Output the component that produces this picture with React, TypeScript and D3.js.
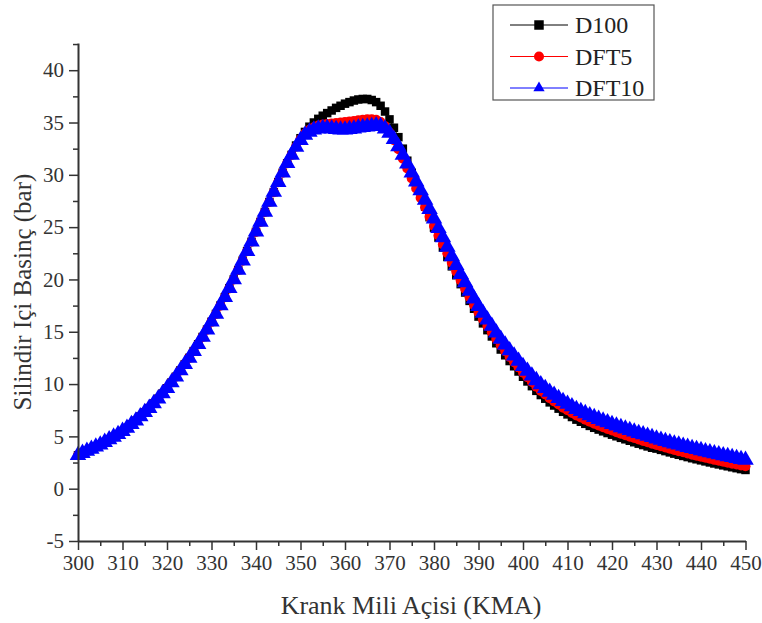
import { useEffect, useRef } from "react";
import * as d3 from "d3";

// crank angle, one reading per degree
const angles = d3.range(300, 451);

const d100 = [
  3.2, 3.4, 3.6, 3.8, 4.0, 4.2, 4.45, 4.7, 4.95, 5.2,
  5.5, 5.8, 6.15, 6.5, 6.9, 7.3, 7.7, 8.15, 8.6, 9.1,
  9.6, 10.15, 10.7, 11.3, 11.9, 12.5, 13.15, 13.8, 14.5, 15.2,
  15.95, 16.7, 17.5, 18.3, 19.15, 20.0, 20.9, 21.8, 22.7, 23.6,
  24.55, 25.5, 26.45, 27.4, 28.35, 29.3, 30.2, 31.1, 31.9, 32.8,
  33.5, 34.1, 34.6, 35.0, 35.35, 35.65, 35.9, 36.15, 36.4, 36.6,
  36.8, 36.95, 37.1, 37.2, 37.25, 37.25, 37.15, 36.95, 36.6, 36.05,
  35.3, 34.5, 33.6, 32.5, 31.35, 30.2, 29.1, 28.0, 26.95, 25.95,
  24.95, 24.0, 23.05, 22.15, 21.25, 20.4, 19.55, 18.75, 17.95, 17.2,
  16.45, 15.8, 15.15, 14.55, 13.9, 13.3, 12.75, 12.2, 11.7, 11.2,
  10.7, 10.25, 9.8, 9.35, 8.95, 8.6, 8.25, 7.95, 7.65, 7.35,
  7.1, 6.85, 6.6, 6.4, 6.2, 6.0, 5.82, 5.65, 5.48, 5.32,
  5.16, 5.01, 4.86, 4.72, 4.58, 4.44, 4.3, 4.17, 4.04, 3.91,
  3.83, 3.71, 3.59, 3.47, 3.35, 3.24, 3.13, 3.02, 2.91, 2.81,
  2.71, 2.61, 2.51, 2.41, 2.32, 2.23, 2.14, 2.05, 1.96, 1.87,
  1.79,
];

const dft5 = [
  3.2, 3.4, 3.6, 3.8, 4.0, 4.2, 4.45, 4.7, 4.95, 5.2,
  5.5, 5.8, 6.15, 6.5, 6.9, 7.3, 7.7, 8.15, 8.6, 9.1,
  9.6, 10.15, 10.7, 11.3, 11.9, 12.5, 13.15, 13.8, 14.5, 15.2,
  15.95, 16.7, 17.5, 18.3, 19.15, 20.0, 20.9, 21.8, 22.7, 23.6,
  24.55, 25.5, 26.45, 27.4, 28.35, 29.3, 30.2, 31.1, 31.9, 32.7,
  33.4, 33.95, 34.3, 34.55, 34.7, 34.8, 34.85, 34.9, 34.95, 35.0,
  35.05, 35.1, 35.15, 35.2, 35.25, 35.3, 35.3, 35.25, 35.05, 34.65,
  34.05, 33.3, 32.45, 31.55, 30.6, 29.65, 28.7, 27.8, 26.9, 26.0,
  25.1, 24.2, 23.35, 22.5, 21.6, 20.75, 19.9, 19.1, 18.3, 17.55,
  16.85, 16.2, 15.55, 14.95, 14.3, 13.7, 13.15, 12.6, 12.1, 11.6,
  11.1, 10.65, 10.2, 9.75, 9.35, 9.0, 8.65, 8.35, 8.05, 7.75,
  7.5, 7.25, 7.0, 6.8, 6.6, 6.4, 6.22, 6.05, 5.88, 5.72,
  5.56, 5.41, 5.26, 5.12, 4.98, 4.84, 4.7, 4.57, 4.44, 4.31,
  4.18, 4.06, 3.94, 3.82, 3.7, 3.59, 3.48, 3.37, 3.26, 3.16,
  3.06, 2.96, 2.86, 2.76, 2.67, 2.58, 2.49, 2.4, 2.31, 2.22,
  2.14,
];

const dft10 = [
  3.2, 3.4, 3.6, 3.8, 4.0, 4.2, 4.45, 4.7, 4.95, 5.2,
  5.5, 5.8, 6.15, 6.5, 6.9, 7.3, 7.7, 8.15, 8.6, 9.1,
  9.6, 10.15, 10.7, 11.3, 11.9, 12.5, 13.15, 13.8, 14.5, 15.2,
  15.95, 16.7, 17.5, 18.3, 19.15, 20.0, 20.9, 21.8, 22.7, 23.6,
  24.55, 25.5, 26.45, 27.4, 28.35, 29.3, 30.2, 31.1, 31.9, 32.65,
  33.3, 33.8, 34.1, 34.3, 34.4, 34.45, 34.45, 34.4, 34.35, 34.3,
  34.3, 34.35, 34.4, 34.5, 34.55, 34.6, 34.65, 34.7, 34.65, 34.4,
  34.0, 33.4, 32.7, 31.9, 31.05, 30.2, 29.35, 28.5, 27.6, 26.7,
  25.8, 24.9, 24.0, 23.1, 22.2, 21.35, 20.5, 19.7, 18.9, 18.15,
  17.45, 16.8, 16.15, 15.55, 14.9, 14.3, 13.75, 13.2, 12.7, 12.2,
  11.7, 11.25, 10.8, 10.35, 9.95, 9.6, 9.25, 8.95, 8.65, 8.35,
  8.1, 7.85, 7.6, 7.4, 7.2, 7.0, 6.82, 6.65, 6.48, 6.32,
  6.16, 6.01, 5.86, 5.72, 5.58, 5.44, 5.3, 5.17, 5.04, 4.91,
  4.78, 4.66, 4.54, 4.42, 4.3, 4.19, 4.08, 3.97, 3.86, 3.76,
  3.66, 3.56, 3.46, 3.36, 3.27, 3.18, 3.09, 3.0, 2.91, 2.82,
  2.74,
];

const seriesNames = ["D100", "DFT5", "DFT10"];
const seriesColors = ["#000000", "#ff0000", "#0000ff"];
const xTicks = [300, 310, 320, 330, 340, 350, 360, 370, 380, 390, 400, 410, 420, 430, 440, 450];
const yTicks = [-5, 0, 5, 10, 15, 20, 25, 30, 35, 40];

const FONT = "'Liberation Serif', 'Times New Roman', serif";

const App = () => {
  const svgRef = useRef<SVGSVGElement>(null);

  useEffect(() => {
    const svg = d3.select(svgRef.current);
    svg.selectAll("*").remove();

    const x = d3.scaleLinear().domain([300, 450]).range([78, 745.5]);
    const y = d3.scaleLinear().domain([-5, 42.6]).range([541, 43]);

    const series = [d100, dft5, dft10];
    const symbols = [d3.symbolSquare, d3.symbolCircle, d3.symbolTriangle];
    const sizes = [72, 80, 118];
    const legendSizes = [90, 80, 55];

    // curves: thin line + dense markers, blue drawn last (on top)
    series.forEach((vals, i) => {
      const pts = angles.map((a, j) => [a, vals[j]] as [number, number]);
      const g = svg.append("g");
      g.append("path")
        .attr("d", d3.line().x((d) => x(d[0])).y((d) => y(d[1]))(pts))
        .attr("fill", "none")
        .attr("stroke", seriesColors[i])
        .attr("stroke-width", 1);
      g.selectAll("path.m")
        .data(pts)
        .enter()
        .append("path")
        .attr("class", "m")
        .attr("d", d3.symbol().type(symbols[i]).size(sizes[i])())
        .attr("transform", (d) => `translate(${x(d[0])},${y(d[1])})`)
        .attr("fill", seriesColors[i]);
    });

    // axes
    const fmt = (d: any) => String(d);
    const yAxis = svg.append("g").attr("transform", "translate(78,0)");
    yAxis.call(d3.axisLeft(y).tickValues(yTicks).tickSize(9).tickSizeOuter(0).tickPadding(5).tickFormat(fmt));
    const yMinor = svg.append("g").attr("transform", "translate(78,0)");
    yMinor.call(
      d3.axisLeft(y).tickValues(yTicks.map((t) => t + 2.5)).tickSize(5).tickFormat(() => "")
    );
    yMinor.select(".domain").remove();

    const xAxis = svg.append("g").attr("transform", "translate(0,541)");
    xAxis.call(d3.axisBottom(x).tickValues(xTicks).tickSize(9).tickSizeOuter(0).tickPadding(5).tickFormat(fmt));
    const xMinor = svg.append("g").attr("transform", "translate(0,541)");
    xMinor.call(
      d3.axisBottom(x).tickValues(xTicks.slice(0, -1).map((t) => t + 5)).tickSize(5).tickFormat(() => "")
    );
    xMinor.select(".domain").remove();

    svg.selectAll(".domain").attr("stroke", "#333").attr("stroke-width", 2);
    svg.selectAll(".tick line").attr("stroke", "#333").attr("stroke-width", 1.5);
    svg.selectAll(".tick text")
      .attr("font-family", FONT)
      .attr("font-size", 21)
      .attr("fill", "#333");

    // axis titles
    svg.append("text")
      .attr("x", 411)
      .attr("y", 614)
      .attr("text-anchor", "middle")
      .attr("font-family", FONT)
      .attr("font-size", 26)
      .attr("fill", "#333")
      .text("Krank Mili Açisi (KMA)");

    svg.append("text")
      .attr("transform", "translate(31,292) rotate(-90)")
      .attr("text-anchor", "middle")
      .attr("font-family", FONT)
      .attr("font-size", 25)
      .attr("fill", "#333")
      .text("Silindir Içi Basinç (bar)");

    // legend
    const lg = svg.append("g");
    lg.append("rect")
      .attr("x", 493)
      .attr("y", 5)
      .attr("width", 161)
      .attr("height", 95)
      .attr("fill", "#fff")
      .attr("stroke", "#555")
      .attr("stroke-width", 1.2);
    seriesNames.forEach((name, i) => {
      const ly = 25 + i * 31.5;
      lg.append("line")
        .attr("x1", 510)
        .attr("x2", 568)
        .attr("y1", ly)
        .attr("y2", ly)
        .attr("stroke", seriesColors[i])
        .attr("stroke-width", 1);
      lg.append("path")
        .attr("d", d3.symbol().type(symbols[i]).size(legendSizes[i])())
        .attr("transform", `translate(539,${ly})`)
        .attr("fill", seriesColors[i]);
      lg.append("text")
        .attr("x", 575)
        .attr("y", ly)
        .attr("dy", "0.35em")
        .attr("font-family", FONT)
        .attr("font-size", 24)
        .attr("fill", "#222")
        .text(name);
    });
  }, []);

  return (
    <svg
      ref={svgRef}
      width={762}
      height={623}
      style={{ position: "absolute", left: 0, top: 0, background: "#fff" }}
    />
  );
};

export default App;
